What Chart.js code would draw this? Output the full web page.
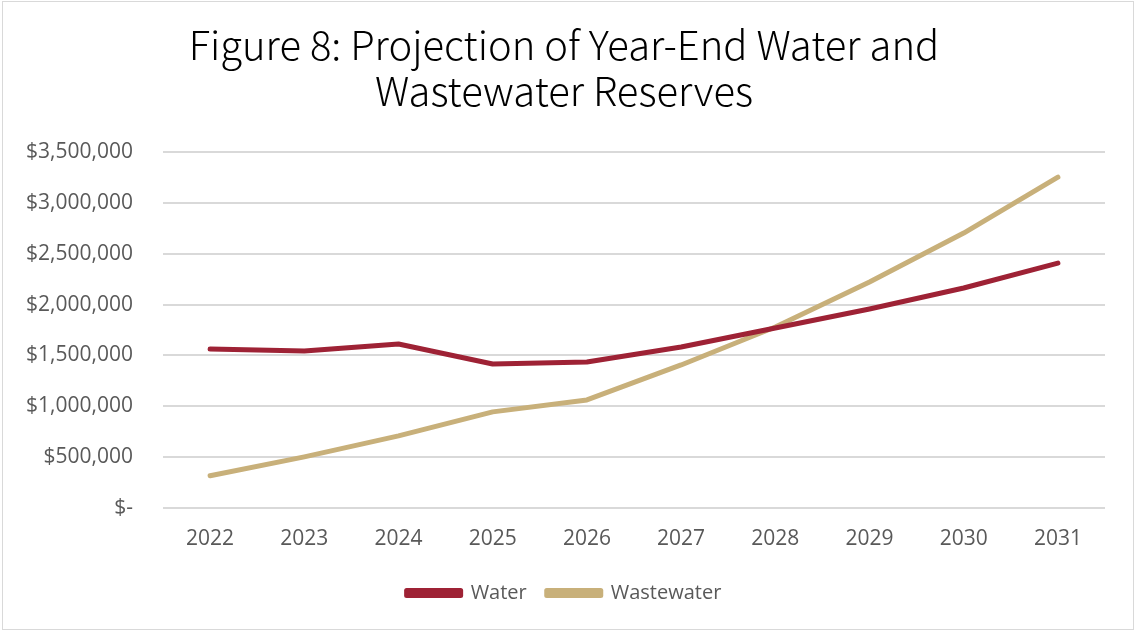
<!DOCTYPE html>
<html lang="en">
<head>
    <meta charset="UTF-8">
    <title>Figure 8: Projection of Year-End Water and Wastewater Reserves</title>
    <script src="https://cdn.jsdelivr.net/npm/chart.js"></script>
    <style>
        body {
            margin: 0;
            background: #ffffff;
        }
        .chart-box {
            position: absolute;
            left: 2px;
            top: 1px;
            width: 1130px;
            height: 627px;
            border: 1px solid #d9d9d9;
            background: #ffffff;
        }
    </style>
</head>
<body>
    <div class="chart-box">
        <canvas id="reserveChart" width="1130" height="627"></canvas>
    </div>

    <script>
        const years = ['2022', '2023', '2024', '2025', '2026', '2027', '2028', '2029', '2030', '2031'];
        const waterReserves = [1563000, 1543000, 1612000, 1416000, 1435000, 1583000, 1770000, 1956000, 2163000, 2408000];
        const wastewaterReserves = [315000, 501000, 708000, 944000, 1062000, 1406000, 1780000, 2222000, 2704000, 3254000];

        function formatDollars(value) {
            if (value === 0) return '$-';
            return '$' + value.toLocaleString('en-US');
        }

        const ctx = document.getElementById('reserveChart').getContext('2d');
        new Chart(ctx, {
            type: 'line',
            data: {
                labels: years,
                datasets: [
                    {
                        label: 'Water',
                        data: waterReserves,
                        borderColor: '#9e2235',
                        backgroundColor: '#9e2235',
                        borderWidth: 5,
                        borderCapStyle: 'round',
                        borderJoinStyle: 'round',
                        pointRadius: 0,
                        tension: 0
                    },
                    {
                        label: 'Wastewater',
                        data: wastewaterReserves,
                        borderColor: '#c8b07a',
                        backgroundColor: '#c8b07a',
                        borderWidth: 5,
                        borderCapStyle: 'round',
                        borderJoinStyle: 'round',
                        pointRadius: 0,
                        tension: 0
                    }
                ]
            },
            options: {
                responsive: false,
                animation: false,
                layout: {
                    padding: { left: 20, right: 28, top: 20, bottom: 16 }
                },
                scales: {
                    y: {
                        min: 0,
                        max: 3500000,
                        afterFit: (scale) => { scale.width = 140; },
                        ticks: {
                            stepSize: 500000,
                            color: '#595959',
                            padding: 30,
                            font: { family: 'Open Sans', size: 21 },
                            callback: formatDollars
                        },
                        grid: { color: '#d9d9d9', lineWidth: 2, drawTicks: false },
                        border: { display: false }
                    },
                    x: {
                        offset: true,
                        ticks: {
                            color: '#595959',
                            padding: 11,
                            font: { family: 'Open Sans', size: 21 }
                        },
                        grid: { display: false, offset: true },
                        border: { display: false }
                    }
                },
                plugins: {
                    title: {
                        display: true,
                        text: ['Figure 8: Projection of Year-End Water and', 'Wastewater Reserves'],
                        color: '#000000',
                        font: { family: 'Noto Sans CJK JP', size: 40, weight: 300, lineHeight: 1.14 },
                        padding: { top: 0, bottom: 39 }
                    },
                    legend: {
                        position: 'bottom',
                        labels: {
                            color: '#595959',
                            font: { family: 'Open Sans', size: 20 },
                            boxWidth: 54,
                            boxHeight: 5,
                            padding: 20
                        }
                    },
                    tooltip: { enabled: false }
                }
            }
        });
    </script>
</body>
</html>
